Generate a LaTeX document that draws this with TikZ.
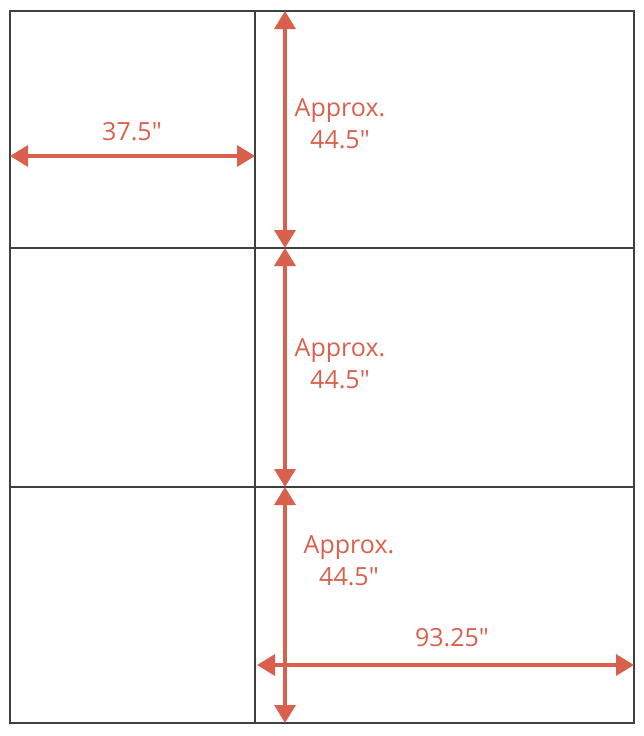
\documentclass[tikz,border=0pt]{standalone}
\usepackage{fontspec}
\setmainfont{Open Sans}
\usepackage{xcolor}
\usetikzlibrary{arrows.meta, calc, positioning}
\definecolor{dimred}{HTML}{D9604C}
\definecolor{framegray}{HTML}{404040}
\newcommand{\inchmark}{\textquotedbl}
\tikzset{
    frameline/.style={draw=framegray, line width=2.8pt},
    dimline/.style={draw=dimred, line width=3.4pt,
        {Triangle[length=18pt,width=21pt]}-{Triangle[length=18pt,width=21pt]}},
    dimlabel/.style={text=dimred, font=\fontsize{25}{32}\selectfont, align=center, inner sep=0pt}
}
\begin{document}
\begin{tikzpicture}[x=1pt, y=-1pt]
    \useasboundingbox (0, 0) rectangle (644, 736);
    % panel corners and dividers
    \coordinate (tl) at (10, 11);
    \coordinate (br) at (634, 723);
    \coordinate (midtop) at (255, 11);
    \coordinate (midbot) at (255, 723);
    \coordinate (rowa) at (10, 248);
    \coordinate (rowaend) at (634, 248);
    \coordinate (rowb) at (10, 487);
    \coordinate (rowbend) at (634, 487);
    \draw[frameline]
    (tl) rectangle (br)
    (midtop) -- (midbot)
    (rowa) -- (rowaend)
    (rowb) -- (rowbend);
    % vertical dimensions
    \coordinate (va) at (285, 11);
    \coordinate (vb) at (285, 248);
    \coordinate (vc) at (285, 487);
    \coordinate (vd) at (285, 723);
    \draw[dimline] (va) -- (vb);
    \draw[dimline] (vb) -- (vc);
    \draw[dimline] (vc) -- (vd);
    \node[dimlabel] (heighta) at (340, 124) {Approx.\\44.5\inchmark};
    \node[dimlabel] (heightb) at (340, 364) {Approx.\\44.5\inchmark};
    \node[dimlabel] (heightc) at (349, 561) {Approx.\\44.5\inchmark};
    % horizontal dimensions
    \coordinate (ha) at (10, 156);
    \coordinate (hb) at (255, 156);
    \draw[dimline] (ha) -- (hb);
    \node[dimlabel] (widtha) at (132, 132) {37.5\inchmark};
    \coordinate (hc) at (257, 665);
    \coordinate (hd) at (634, 665);
    \draw[dimline] (hc) -- (hd);
    \node[dimlabel] (widthb) at (452, 638) {93.25\inchmark};
\end{tikzpicture}
\end{document}
